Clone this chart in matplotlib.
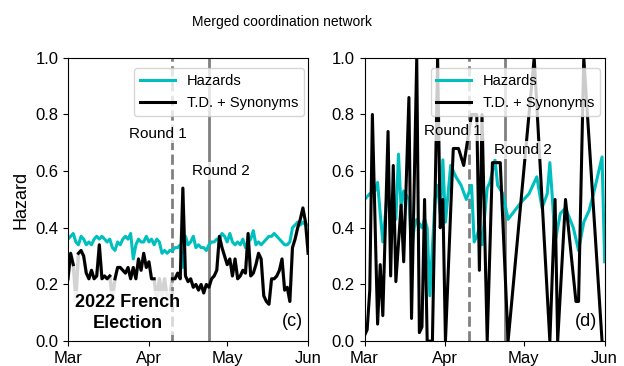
''' Hazard time series for the merged coordination network, 2022 French election '''

import numpy as np
import pandas as pd
import matplotlib
matplotlib.use('Agg')
import matplotlib.pyplot as plt
import matplotlib.dates as mdates

plt.rcParams['font.family'] = ['Liberation Sans', 'DejaVu Sans']

start = pd.Timestamp('2022-03-01')
round1 = pd.Timestamp('2022-04-10')
round2 = pd.Timestamp('2022-04-24')

# Panel (c): daily values, Mar 1 .. Jun 1
c_hazard = [0.36, 0.37, 0.38, 0.35, 0.34, 0.37, 0.36, 0.34, 0.35, 0.34,
            0.36, 0.37, 0.36, 0.37, 0.36, 0.35, 0.36, 0.33, 0.32, 0.35,
            0.34, 0.36, 0.37, 0.36, 0.38, 0.29, 0.34, 0.36, 0.35, 0.35,
            0.37, 0.35, 0.36, 0.34, 0.36, 0.35, 0.31, 0.32, 0.31, 0.32,
            0.32, 0.33, 0.33, 0.34, 0.26, 0.37, 0.34, 0.35, 0.37, 0.33,
            0.34, 0.33, 0.33, 0.32, 0.34, 0.35, 0.35, 0.36, 0.36, 0.38,
            0.37, 0.35, 0.38, 0.35, 0.34, 0.35, 0.34, 0.36, 0.33, 0.35,
            0.36, 0.39, 0.34, 0.35, 0.34, 0.35, 0.36, 0.37, 0.37, 0.38,
            0.37, 0.36, 0.35, 0.34, 0.34, 0.35, 0.40, 0.41, 0.42, 0.41,
            0.42, 0.41, 0.41]
c_td = [0.22, 0.31, 0.27, 0.15, 0.31, 0.32, 0.30, 0.24, 0.22, 0.25,
        0.22, 0.23, 0.34, 0.22, 0.23, 0.22, 0.23, 0.15, 0.22, 0.26,
        0.26, 0.25, 0.24, 0.26, 0.22, 0.26, 0.22, 0.29, 0.25, 0.31,
        0.26, 0.28, 0.22, 0.22, 0.14, 0.22, 0.16, 0.22, 0.15, 0.16,
        0.22, 0.22, 0.24, 0.22, 0.54, 0.23, 0.21, 0.22, 0.19, 0.20,
        0.18, 0.20, 0.17, 0.20, 0.19, 0.22, 0.23, 0.25, 0.37, 0.33,
        0.30, 0.27, 0.29, 0.23, 0.29, 0.22, 0.23, 0.25, 0.24, 0.38,
        0.23, 0.24, 0.27, 0.31, 0.29, 0.16, 0.14, 0.13, 0.22, 0.22,
        0.23, 0.25, 0.29, 0.18, 0.19, 0.14, 0.33, 0.36, 0.40, 0.43,
        0.47, 0.42, 0.31]
# days of c_td that only show in the grey underlay
c_td_hidden = [3, 17, 34, 36, 38, 39]

# Panel (d): irregular days since Mar 1
d_hazard_day = [0, 2, 4, 5, 6, 7, 9, 10, 11, 12, 13, 14, 15, 17, 18, 19, 20,
                22, 23, 24, 25, 27, 28, 29, 30, 31, 33, 35, 37, 39, 41, 42,
                43, 44, 45, 47, 48, 50, 51, 53, 55, 60, 63, 66, 68, 70, 71,
                72, 73, 75, 77, 80, 82, 84, 86, 88, 91, 92]
d_hazard = [0.50, 0.52, 0.53, 0.56, 0.45, 0.35, 0.55, 0.40, 0.47, 0.43,
            0.66, 0.47, 0.53, 0.50, 0.32, 0.40, 0.43, 0.40, 0.43, 0.40,
            0.16, 0.50, 0.55, 0.45, 0.64, 0.42, 0.62, 0.58, 0.55, 0.50,
            0.55, 0.35, 0.37, 0.40, 0.34, 0.54, 0.56, 0.64, 0.55, 0.52,
            0.43, 0.49, 0.52, 0.58, 0.47, 0.52, 0.63, 0.50, 0.35, 0.45,
            0.47, 0.40, 0.32, 0.42, 0.46, 0.53, 0.65, 0.28]
d_td_day = [0, 1, 2, 3, 5, 6, 7, 9, 10, 11, 12, 14, 15, 17, 18, 20, 21, 22,
            23, 24, 26, 28, 29, 30, 31, 33, 34, 36, 38, 39, 41, 43, 44, 45,
            47, 49, 52, 55, 65, 71, 73, 74, 77, 81, 82, 84, 91]
d_td = [0.02, 0.04, 0.18, 0.80, 0.06, 0.27, 0.09, 0.74, 0.23, 0.62, 0.21,
        0.48, 0.28, 0.86, 0.08, 1.00, 0.03, 0.05, 0.50, 0.00, 0.00, 1.00,
        0.40, 0.50, 0.00, 0.46, 0.68, 0.68, 0.62, 0.68, 0.80, 0.80, 0.25,
        0.80, 0.00, 0.63, 0.63, 0.00, 1.00, 0.00, 0.50, 0.00, 0.50, 0.14,
        0.14, 1.00, 0.00]

days_c = start + pd.to_timedelta(np.arange(len(c_hazard)), unit='D')
td_masked = np.array(c_td, dtype=float)
td_masked[c_td_hidden] = np.nan
dates_dh = start + pd.to_timedelta(d_hazard_day, unit='D')
dates_dt = start + pd.to_timedelta(d_td_day, unit='D')

fig, ax = plt.subplots(1, 2, figsize=(6.24, 3.66), dpi=100)
plt.subplots_adjust(left=0.109, right=0.969, top=0.842, bottom=0.068,
                    wspace=0.235)

k_box = {'facecolor': 'white', 'edgecolor': 'none', 'alpha': 0.8,
         'pad': 1.5}

# (c)
ax[0].plot(days_c, c_td, color='lightgray', lw=2.5, zorder=1)
ax[0].plot(days_c, c_hazard, color='c', lw=2.2, label='Hazards', zorder=2)
ax[0].plot(days_c, td_masked, color='k', lw=2.2, label='T.D. + Synonyms',
           zorder=3)
ax[0].text(start + pd.Timedelta(days=23), 0.1, '2022 French\nElection',
           fontsize=13, fontweight='bold', ha='center', va='center',
           linespacing=1.35, zorder=5,
           bbox={'facecolor': 'white', 'edgecolor': 'none', 'alpha': 0.7,
                 'pad': 2})
ax[0].text(0.98, 0.04, '(c)', transform=ax[0].transAxes, fontsize=13,
           ha='right', va='bottom')
ax[0].text(start + pd.Timedelta(days=34.5), 0.73, 'Round 1', fontsize=11,
           ha='center', va='center', bbox=k_box, zorder=4)
ax[0].text(start + pd.Timedelta(days=58.5), 0.60, 'Round 2', fontsize=11,
           ha='center', va='center', bbox=k_box, zorder=4)
ax[0].set_ylabel('Hazard', fontsize=13)

# (d)
ax[1].plot(dates_dh, d_hazard, color='c', lw=2.2, label='Hazards', zorder=2)
ax[1].plot(dates_dt, d_td, color='k', lw=2.2, label='T.D. + Synonyms',
           zorder=3)
ax[1].text(0.97, 0.04, '(d)', transform=ax[1].transAxes, fontsize=13,
           ha='right', va='bottom')
ax[1].text(start + pd.Timedelta(days=34), 0.74, 'Round 1', fontsize=11,
           ha='center', va='center', bbox=k_box, zorder=4)
ax[1].text(start + pd.Timedelta(days=60.5), 0.675, 'Round 2', fontsize=11,
           ha='center', va='center', bbox=k_box, zorder=4)

for a in ax:
    a.axvline(round1, color='gray', lw=2, ls='--', zorder=1.5)
    a.axvline(round2, color='gray', lw=2, zorder=1.5)
    a.set_xlim(start, pd.Timestamp('2022-06-01'))
    a.set_ylim(0, 1)
    a.set_yticks(np.arange(0, 1.01, 0.2))
    a.xaxis.set_major_locator(mdates.MonthLocator())
    a.xaxis.set_major_formatter(mdates.DateFormatter('%b'))
    a.tick_params(labelsize=12)
    leg = a.legend(loc='upper right', bbox_to_anchor=(1, 0.98), fontsize=10.5,
                   handlelength=2.4, labelspacing=0.6, borderaxespad=0.3,
                   framealpha=0.8)
    leg.set_zorder(6)

fig.suptitle('Merged coordination network', fontsize=10, x=0.452, y=0.96)

plt.savefig('out.png', dpi=100)
